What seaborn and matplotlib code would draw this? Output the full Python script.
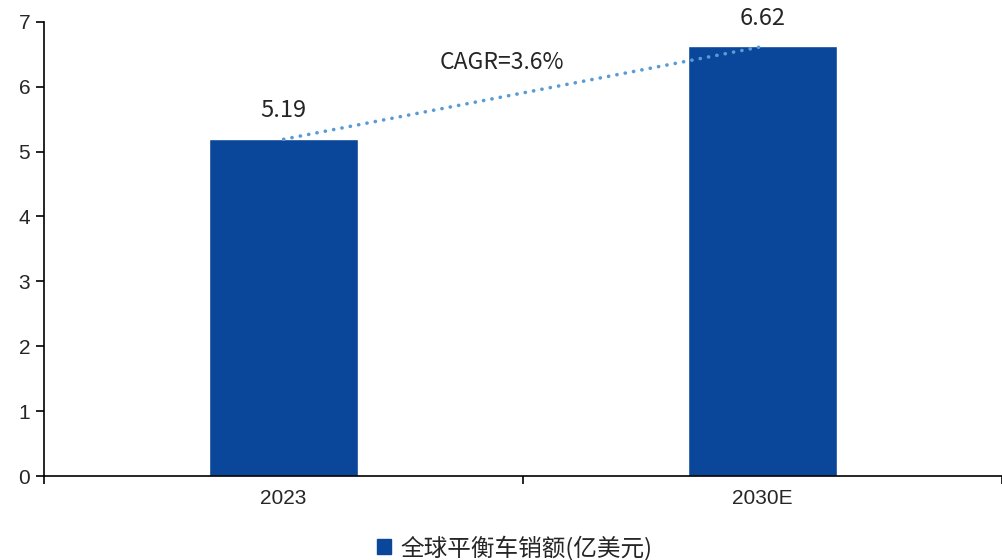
import matplotlib
matplotlib.use("Agg")
import matplotlib.pyplot as plt
from matplotlib.patches import Patch
import pandas as pd
import seaborn as sns

years = ["2023", "2030E"]
sales = [5.19, 6.62]
series_name = "全球平衡车销额(亿美元)"
cagr_text = "CAGR=3.6%"

BAR_COLOR = "#0A4699"
LINE_COLOR = "#5B9BD5"

sns.set_theme(style="white")
plt.rcParams["font.family"] = ["Liberation Sans", "DejaVu Sans"]
CJK = ["Noto Sans CJK SC", "DejaVu Sans"]

df = pd.DataFrame({"year": years, "sales": sales})

fig = plt.figure(figsize=(10.03, 5.6), dpi=100)
ax = fig.add_axes([0.044, 0.15, 0.955, 0.811])

sns.barplot(data=df, x="year", y="sales", color=BAR_COLOR, saturation=1,
            width=0.31, ax=ax)

# CAGR dotted connector between bar tops
ax.plot([0, 1], sales, color=LINE_COLOR, lw=2.6,
        linestyle=(0, (0.05, 2.3)), dash_capstyle="round", zorder=3)

for i, v in enumerate(sales):
    ax.text(i, v + 0.26, f"{v:.2f}", ha="center", va="bottom",
            fontsize=17, family=CJK)
ax.text(0.455, 6.2, cagr_text, ha="center", va="bottom",
        fontsize=16.5, family=CJK)

ax.set_xlim(-0.5, 1.5)
ax.set_ylim(0, 7)
ax.set_yticks(range(0, 8))
ax.set_xlabel("")
ax.set_ylabel("")
ax.set_xticks([-0.5, 0.5, 1.5], minor=True)
ax.tick_params(axis="x", which="major", length=0, labelsize=15, pad=9)
ax.tick_params(axis="x", which="minor", length=6, width=1.2, direction="out",
               color="black", bottom=True)
ax.tick_params(axis="y", length=6, width=1.2, direction="out", color="black",
               left=True, labelsize=15, pad=4)

for side in ["top", "right"]:
    ax.spines[side].set_visible(False)
for side in ["left", "bottom"]:
    ax.spines[side].set_color("black")
    ax.spines[side].set_linewidth(1.2)

handle = Patch(facecolor=BAR_COLOR, edgecolor=BAR_COLOR)
fig.legend([handle], [series_name], loc="center", bbox_to_anchor=(0.513, 0.022),
           frameon=False, prop={"family": CJK, "size": 17},
           handlelength=0.6, handleheight=0.6, handletextpad=0.4)

fig.savefig("out.png", dpi=100)
